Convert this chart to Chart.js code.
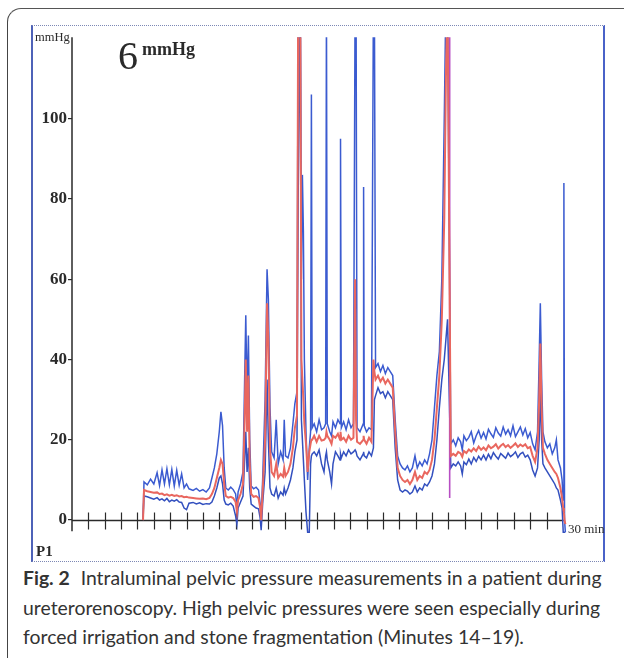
<!DOCTYPE html>
<html>
<head>
<meta charset="utf-8">
<script src="https://cdn.jsdelivr.net/npm/chart.js@4.4.1/dist/chart.umd.min.js"></script>
<style>
  html, body { margin: 0; padding: 0; background: #fff; width: 624px; height: 658px; overflow: hidden; }
  body { position: relative; font-family: "Liberation Serif", serif; color: #2a2a2a; }
  #frame { position: absolute; left: 7px; top: 8px; width: 700px; height: 700px;
    border-top: 1.5px solid #555; border-left: 1.5px solid #444; border-top-left-radius: 14px; }
  #box { position: absolute; left: 31px; top: 25px; width: 570px; height: 535px;
    border-left: 2px solid #4e62b8; border-right: 2px solid #4a62c8;
    border-top: 1px dotted #7d88b5; border-bottom: 1px dotted #7d88b5; }
  .lbl { position: absolute; white-space: nowrap; }
  #unit { left: 35px; top: 31px; font-size: 12.5px; line-height: 12.5px; }
  #six { left: 118px; top: 36px; font-size: 40px; line-height: 40px; }
  #sixunit { left: 142px; top: 40px; font-size: 18px; line-height: 18px; font-weight: bold; }
  #p1 { left: 36px; top: 544px; font-size: 15px; line-height: 15px; font-weight: bold; }
  #min30 { left: 568px; top: 522px; font-size: 13px; line-height: 13px; }
  #caption { position: absolute; left: 23px; top: 563px; width: 600px; font-family: Lato, sans-serif;
    font-size: 19.4px; line-height: 29.5px; color: #333; white-space: nowrap; }
  #caption b { margin-right: 6px; }
</style>
</head>
<body>
<div id="frame"></div>
<div id="box"><canvas id="myChart"></canvas></div>
<div class="lbl" id="unit">mmHg</div>
<div class="lbl" id="six">6</div>
<div class="lbl" id="sixunit">mmHg</div>
<div class="lbl" id="p1">P1</div>
<div class="lbl" id="min30">30 min</div>
<div id="caption"><b>Fig. 2</b> Intraluminal pelvic pressure measurements in a patient during<br>ureterorenoscopy. High pelvic pressures were seen especially during<br>forced irrigation and stone fragmentation (Minutes 14–19).</div>
<script>
// time in minutes, pressure in mmHg
var time = [
    4.34, 4.40, 4.6, 4.8, 5.0, 5.2, 5.35, 5.5, 5.65, 5.8,
    5.95, 6.1, 6.25, 6.4, 6.55, 6.7, 6.85, 7.0, 7.15, 7.4,
    7.6, 7.8, 8.0, 8.2, 8.4, 8.55, 8.7, 8.85, 9.0, 9.1,
    9.2, 9.3, 9.4, 9.55, 9.7, 9.85, 10.0, 10.08, 10.15, 10.3,
    10.45, 10.55, 10.62, 10.7, 10.78, 10.86, 10.95, 11.1, 11.25, 11.4,
    11.5, 11.56, 11.65, 11.8, 11.92, 12.0, 12.1, 12.2, 12.35, 12.48,
    12.6, 12.75, 12.9, 12.97, 13.05, 13.2, 13.35, 13.5, 13.62, 13.75,
    13.82, 13.95, 14.02, 14.08, 14.14, 14.2, 14.3, 14.4, 14.5, 14.58,
    14.63, 14.68, 14.8, 14.95, 15.1, 15.25, 15.4, 15.5, 15.55, 15.6,
    15.75, 15.86, 15.95, 16.1, 16.25, 16.38, 16.41, 16.46, 16.6, 16.75,
    16.9, 17.05, 17.2, 17.3, 17.36, 17.42, 17.6, 17.8, 17.82, 17.86,
    18.0, 18.15, 18.3, 18.42, 18.48, 18.55, 18.7, 18.85, 19.0, 19.15,
    19.3, 19.45, 19.6, 19.75, 19.9, 20.05, 20.2, 20.35, 20.5, 20.65,
    20.8, 20.96, 21.1, 21.25, 21.4, 21.55, 21.7, 21.85, 22.0, 22.15,
    22.3, 22.45, 22.6, 22.75, 22.85, 22.95, 23.15, 23.3, 23.45, 23.6,
    23.75, 23.85, 23.95, 24.1, 24.25, 24.4, 24.55, 24.7, 24.85, 25.0,
    25.15, 25.3, 25.45, 25.6, 25.75, 25.9, 26.05, 26.2, 26.35, 26.5,
    26.65, 26.8, 26.95, 27.1, 27.25, 27.4, 27.55, 27.7, 27.85, 28.0,
    28.15, 28.3, 28.45, 28.55, 28.62, 28.7, 28.78, 28.9, 29.05, 29.2,
    29.35, 29.5, 29.6, 29.7, 29.85, 29.95, 30.02, 30.06, 30.1, 30.15
]
var upper = [
    0, 9.5, 8.8, 10.2, 9.0, 11.8, 8.6, 12.5, 9.0, 12.8,
    8.8, 12.6, 8.5, 12.4, 8.7, 11.5, 8.0, 9.0, 7.8, 7.4,
    7.9, 7.2, 7.6, 7.0, 8.0, 10.5, 13.0, 16.5, 22.0, 27.0,
    23.5, 13.0, 8.0, 7.5, 8.2, 7.6, 6.5, 3.0, 7.0, 9.0,
    12.0, 35.0, 51.0, 30.0, 46.0, 20.0, 8.5, 7.8, 8.2, 7.5,
    4.0, 1.0, 10.0, 30.0, 62.5, 55.0, 28.0, 17.0, 15.5, 25.0,
    14.0, 17.0, 15.0, 25.0, 16.0, 15.5, 18.0, 24.0, 29.0, 32.0,
    130, 130, 60.0, 86.0, 72.0, 40.0, 22.0, 10.0, 18.0, 22.0,
    106.0, 23.0, 24.0, 22.0, 25.0, 22.5, 23.0, 24.0, 130, 24.0,
    22.0, 21.0, 24.5, 23.0, 25.0, 24.0, 95.0, 23.0, 24.5, 22.5,
    25.0, 23.0, 24.0, 130, 130, 23.0, 22.0, 24.0, 83.0, 23.5,
    22.0, 23.0, 22.5, 130, 130, 38.0, 39.0, 37.0, 38.5, 36.5,
    38.0, 37.0, 36.0, 25.0, 16.0, 14.0, 13.0, 12.5, 13.5, 12.0,
    13.0, 16.0, 13.0, 14.5, 13.5, 15.0, 14.0, 16.5, 20.0, 28.0,
    36.0, 42.0, 60.0, 100.0, 130, 130, 19.0, 20.0, 18.5, 20.5,
    19.5, 17.5, 21.0, 19.8, 20.6, 22.0, 19.2, 21.0, 22.3, 20.4,
    21.8, 20.2, 22.6, 21.5, 20.6, 23.0, 21.7, 20.9, 23.2, 21.4,
    22.5, 21.0, 23.5, 20.8, 22.0, 23.2, 21.2, 22.8, 20.5, 21.8,
    19.0, 17.5, 22.0, 40.0, 54.0, 35.0, 22.0, 19.5, 18.0, 19.0,
    16.5, 18.0, 20.0, 15.0, 13.0, 10.0, 5.0, 84.0, 0.0, -3.0
]
var mean = [
    0, 7.5, 7.2, 7.0, 6.8, 6.9, 6.5, 6.6, 6.2, 6.4,
    6.1, 6.3, 6.0, 6.2, 5.9, 6.0, 5.7, 5.8, 5.6, 5.5,
    5.4, 5.3, 5.4, 5.2, 5.5, 6.5, 8.0, 10.5, 13.0, 15.0,
    14.0, 9.0, 6.0, 5.6, 5.8, 5.5, 4.5, 2.0, 5.0, 6.5,
    9.0, 25.0, 40.0, 22.0, 36.0, 14.0, 6.5, 5.8, 6.0, 5.5,
    3.0, 0.0, 7.0, 20.0, 54.0, 45.0, 18.0, 12.0, 11.0, 14.0,
    10.5, 11.5, 10.8, 13.0, 11.0, 12.0, 14.0, 18.0, 23.0, 26.0,
    130, 130, 40.0, 35.0, 30.0, 24.0, 19.0, 12.0, 17.0, 19.0,
    20.0, 20.0, 21.0, 19.5, 21.0, 19.8, 20.0, 20.5, 22.0, 21.0,
    20.0, 19.0, 21.0, 20.5, 21.5, 20.0, 22.0, 20.0, 20.5, 19.5,
    21.0, 20.0, 20.5, 60.0, 25.0, 19.5, 19.0, 20.0, 21.0, 20.0,
    19.0, 20.5, 19.5, 40.0, 37.0, 35.0, 36.0, 34.5, 35.5, 34.0,
    35.0, 34.0, 33.0, 22.0, 13.0, 11.0, 10.0, 9.5, 10.0, 9.0,
    10.0, 12.0, 10.0, 11.0, 10.5, 12.0, 11.5, 12.5, 15.0, 20.0,
    28.0, 36.0, 50.0, 75.0, 110.0, 130, 16.0, 16.5, 16.0, 17.0,
    16.6, 15.8, 17.2, 16.7, 17.6, 17.1, 17.9, 17.2, 18.3, 17.5,
    18.1, 17.4, 18.6, 17.9, 18.3, 18.9, 17.8, 18.5, 19.0, 18.2,
    18.7, 18.0, 18.5, 19.1, 18.2, 18.8, 18.4, 18.9, 17.9, 18.2,
    16.0, 14.5, 18.0, 30.0, 44.0, 28.0, 18.0, 16.5, 15.0, 14.0,
    13.0, 12.0, 11.5, 10.5, 8.0, 5.5, 3.0, 2.0, 0.0, -1.0
]
var lower = [
    0, 6.0, 5.8, 5.5, 5.2, 5.6, 5.0, 5.3, 4.8, 5.4,
    4.6, 5.0, 4.7, 5.1, 4.5, 4.4, 3.0, 2.6, 4.2, 4.4,
    4.0, 4.3, 3.9, 4.1, 4.0, 4.5, 6.0, 8.0, 10.5, 11.0,
    9.0, 5.0, 4.0, 3.8, 4.2, 3.5, 1.0, -1.0, 3.0, 4.5,
    6.0, 15.0, 22.0, 12.0, 18.0, 8.0, 4.0, 3.5, 3.0, 2.8,
    0.5, -2.5, 4.0, 12.0, 35.0, 20.0, 8.0, 6.5, 6.0, 8.0,
    5.5, 7.0, 6.2, 8.0, 6.5, 8.0, 10.0, 13.0, 17.0, 20.0,
    80.0, 130, 25.0, 20.0, 15.0, 10.0, 2.0, -3.0, -3.0, 14.0,
    16.0, 16.5, 17.0, 16.0, 17.5, 14.0, 12.0, 16.0, 17.0, 15.0,
    12.0, 9.0, 14.0, 17.0, 16.0, 15.0, 16.5, 15.5, 17.0, 16.0,
    17.5, 16.5, 17.0, 17.5, 17.0, 16.0, 15.0, 16.5, 17.0, 16.0,
    15.5, 17.0, 16.0, 18.0, 30.0, 31.0, 33.0, 31.5, 32.0, 30.5,
    32.0, 31.0, 30.0, 18.0, 10.0, 7.5, 7.0, 7.5, 7.2, 6.5,
    7.0, 8.5, 7.0, 8.0, 7.5, 9.0, 8.5, 9.5, 11.0, 14.0,
    20.0, 28.0, 35.0, 40.0, 45.0, 50.0, 13.0, 14.0, 13.5, 14.5,
    13.5, 11.5, 14.5, 13.8, 15.2, 14.0, 15.6, 14.6, 15.9, 15.0,
    16.2, 15.0, 16.4, 15.3, 16.8, 15.9, 15.2, 16.6, 16.0, 15.4,
    16.7, 15.8, 16.3, 17.0, 15.6, 16.5, 16.9, 15.7, 16.2, 15.0,
    12.5, 11.0, 13.0, 20.0, 32.0, 20.0, 14.0, 13.0, 12.0, 11.0,
    10.0, 9.0, 8.0, 7.5, 5.0, 3.0, -3.0, -3.0, -3.0, -3.0
]
// the single magenta flush line at minute 23
var flushTime = [23.08, 23.08]
var flushValue = [130, 5.5]

var yTicks = [0, 20, 40, 60, 80, 100]
var minuteTicks = [1, 2, 3, 4, 5, 6, 7, 8, 9, 10, 11, 12, 13, 14, 15,
    16, 17, 18, 19, 20, 21, 22, 23, 24, 25, 26, 27, 28, 29]
var axisEnd = 30.05

function toPoints(xs, ys) {
    return xs.map(function(t, i) { return { x: t, y: ys[i] }; });
}

// x axis with minute ticks and the y axis line, drawn under the traces
const axisLines = {
    id: 'axisLines',
    beforeDatasetsDraw(chart) {
        const ctx = chart.ctx;
        const x = chart.scales.x;
        const y = chart.scales.y;
        const x0 = x.getPixelForValue(0);
        const y0 = Math.round(y.getPixelForValue(0)) + 0.5;
        ctx.save();
        ctx.strokeStyle = '#2a2a2a';
        ctx.lineWidth = 1.5;
        ctx.beginPath();
        ctx.moveTo(x0, y0);
        ctx.lineTo(x.getPixelForValue(axisEnd), y0);
        ctx.moveTo(x0, y.top);
        ctx.lineTo(x0, y.getPixelForValue(-2.8));
        ctx.stroke();
        ctx.lineWidth = 1.2;
        minuteTicks.forEach(function(m) {
            const px = Math.round(x.getPixelForValue(m)) + 0.5;
            ctx.beginPath();
            ctx.moveTo(px, y0 - 8);
            ctx.lineTo(px, y0 + 9);
            ctx.stroke();
        });
        ctx.restore();
    }
};

function initialiseChart() {
    const ctx = document.getElementById('myChart');
    new Chart(ctx, {
        type: 'line',
        data: {
            datasets: [{
                label: 'mean',
                data: toPoints(time, mean),
                borderColor: '#e9675f',
                borderWidth: 2
            }, {
                label: 'flush',
                data: toPoints(flushTime, flushValue),
                borderColor: '#b74ec3',
                borderWidth: 1.6
            }, {
                label: 'upper',
                data: toPoints(time, upper),
                borderColor: '#3b5bd0',
                borderWidth: 1.5
            }, {
                label: 'lower',
                data: toPoints(time, lower),
                borderColor: '#3350bf',
                borderWidth: 1.5
            }]
        },
        options: {
            responsive: true,
            maintainAspectRatio: false,
            animation: false,
            layout: { padding: 0 },
            elements: {
                point: { radius: 0 },
                line: { tension: 0 }
            },
            plugins: {
                legend: { display: false },
                tooltip: { enabled: false }
            },
            scales: {
                x: {
                    type: 'linear',
                    display: false,
                    min: 0,
                    max: 32.45
                },
                y: {
                    min: -7.4,
                    max: 120.3,
                    afterBuildTicks: function(scale) {
                        scale.ticks = yTicks.map(function(v) { return { value: v }; });
                    },
                    afterFit: function(scale) {
                        scale.width = 39;
                    },
                    border: { display: false },
                    grid: {
                        drawOnChartArea: false,
                        drawTicks: true,
                        tickLength: 4,
                        color: '#2a2a2a',
                        lineWidth: 1.2
                    },
                    ticks: {
                        padding: 1,
                        color: '#2a2a2a',
                        font: { family: 'Liberation Serif', size: 17, weight: 'bold' }
                    }
                }
            }
        },
        plugins: [axisLines]
    });
}

initialiseChart();
</script>
</body>
</html>
